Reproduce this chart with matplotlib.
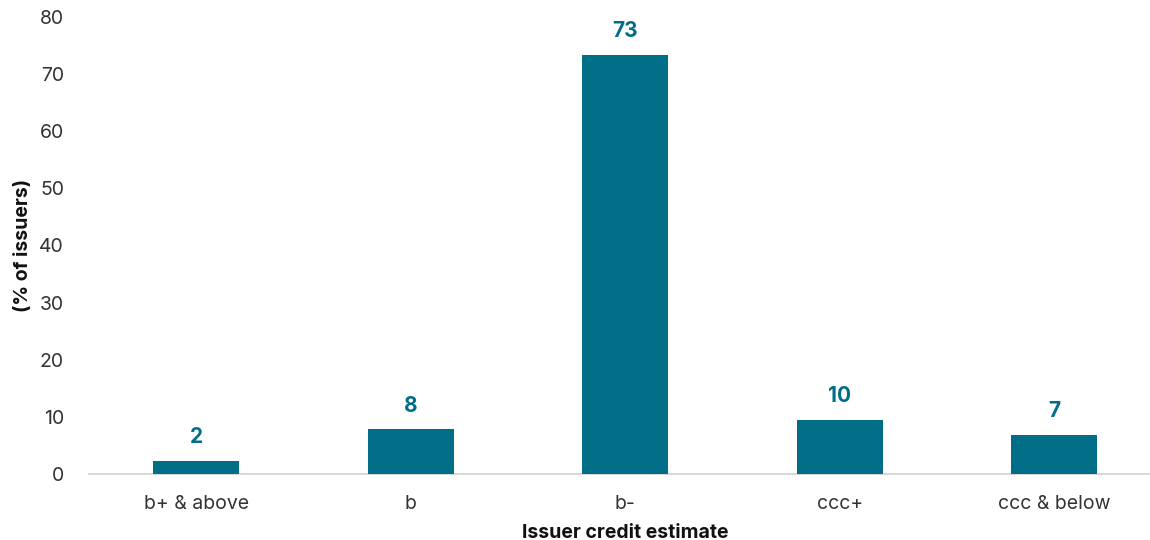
import matplotlib
matplotlib.use("Agg")
import matplotlib.pyplot as plt

categories = ["b+ & above", "b", "b-", "ccc+", "ccc & below"]
values = [2.3, 7.8, 73.4, 9.5, 6.9]
labels = ["2", "8", "73", "10", "7"]
yticks = [0, 10, 20, 30, 40, 50, 60, 70, 80]

plt.rcParams['font.family'] = ['Inter', 'DejaVu Sans']
teal = "#006E87"

fig = plt.figure(figsize=(11.5, 5.4), dpi=100)
ax = fig.add_axes([89/1150, 1-474/540, 1072.5/1150, (474-17)/540])

x = list(range(len(categories)))
bars = ax.bar(x, values, width=0.4, color=teal, zorder=3)
for xi, v, lab in zip(x, values, labels):
    ax.annotate(lab, (xi, v), xytext=(0, 10), textcoords="offset points",
                ha="center", va="bottom", color=teal, fontsize=15, fontweight="bold")

ax.set_xlim(-0.5, len(categories) - 0.5)
ax.set_ylim(0, 80)
ax.set_yticks(yticks)
ax.set_xticks(x)
ax.set_xticklabels(categories)
ax.tick_params(axis="both", length=0, labelsize=14, labelcolor="#333333")
ax.tick_params(axis="x", pad=15)
ax.tick_params(axis="y", pad=18)
for s in ["top", "right", "left"]:
    ax.spines[s].set_visible(False)
ax.spines["bottom"].set_color("#d0d0d0")
ax.spines["bottom"].set_linewidth(1.2)

ax.set_xlabel("Issuer credit estimate", fontsize=14, fontweight="bold", color="#111111", labelpad=8)
ax.set_ylabel("(% of issuers)", fontsize=14, fontweight="bold", color="#111111", labelpad=5)

fig.savefig("out.png", dpi=100)
